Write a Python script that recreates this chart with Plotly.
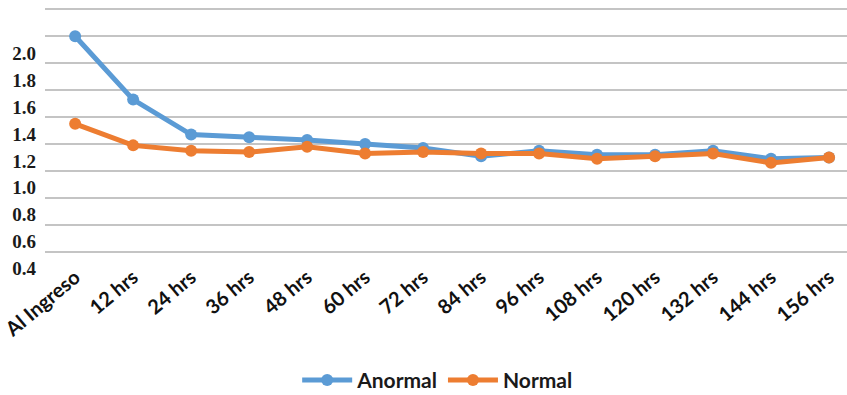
import plotly.graph_objects as go

# Time points of the measurements
categories = ["Al Ingreso", "12 hrs", "24 hrs", "36 hrs", "48 hrs", "60 hrs", "72 hrs",
              "84 hrs", "96 hrs", "108 hrs", "120 hrs", "132 hrs", "144 hrs", "156 hrs"]

# Series values
anormal = [2.00, 1.53, 1.27, 1.25, 1.23, 1.20, 1.17, 1.11, 1.15, 1.12, 1.12, 1.15, 1.09, 1.10]
normal = [1.35, 1.19, 1.15, 1.14, 1.18, 1.13, 1.14, 1.13, 1.13, 1.09, 1.11, 1.13, 1.06, 1.10]

# Left-axis tick labels
y_tick_values = [0.4, 0.6, 0.8, 1.0, 1.2, 1.4, 1.6, 1.8, 2.0]
y_tick_labels = ["0.4", "0.6", "0.8", "1.0", "1.2", "1.4", "1.6", "1.8", "2.0"]

BLUE = "#5B9BD5"
ORANGE = "#ED7D31"
GRID = "#C4C4C4"

# value range of the plotting area (grid lines every 0.2 from 0.4 to 2.2)
y_range = [0.22, 2.21]
label_shift = 0.125  # tick text sits a little below its grid line

fig = go.Figure()
fig.add_trace(go.Scatter(
    x=categories, y=anormal, name="Anormal", mode="lines+markers",
    line=dict(color=BLUE, width=5), marker=dict(color=BLUE, size=12),
))
fig.add_trace(go.Scatter(
    x=categories, y=normal, name="Normal", mode="lines+markers",
    line=dict(color=ORANGE, width=5), marker=dict(color=ORANGE, size=12),
))
# empty trace so the labelled left axis is drawn
fig.add_trace(go.Scatter(
    x=[categories[0]], y=[None], yaxis="y2", mode="lines",
    showlegend=False, hoverinfo="skip",
))

fig.update_layout(
    width=847, height=395,
    margin=dict(l=45, r=0, t=7.65, b=119.3, autoexpand=False),
    plot_bgcolor="white", paper_bgcolor="white",
    showlegend=True,
    legend=dict(
        orientation="h", x=0.489, xanchor="center",
        y=-0.389, yanchor="middle",
        font=dict(family="Lato", size=21, color="#1a1a1a", weight="bold"),
        itemwidth=50, tracegroupgap=0,
        bgcolor="rgba(0,0,0,0)",
    ),
    xaxis=dict(
        type="category", categoryorder="array", categoryarray=categories,
        range=[-0.52, 13.31], automargin=False,
        showgrid=False, showline=False, zeroline=False,
        ticks="", tickangle=-40, ticklabelstandoff=-15,
        tickfont=dict(family="Lato", size=20, color="#111111", weight="bold"),
    ),
    yaxis=dict(
        range=y_range, tick0=0.4, dtick=0.2, automargin=False,
        showgrid=True, gridcolor=GRID, gridwidth=1.5,
        showticklabels=False, ticks="", zeroline=False, showline=False,
    ),
    yaxis2=dict(
        overlaying="y", side="left", anchor="x", automargin=False,
        range=[y_range[0] + label_shift, y_range[1] + label_shift],
        tickmode="array", tickvals=y_tick_values, ticktext=y_tick_labels,
        showgrid=False, zeroline=False, showline=False, ticks="",
        ticklabelstandoff=8,
        tickfont=dict(family="Liberation Serif", size=19, color="#1a1a1a", weight="bold"),
    ),
)

fig.write_html("out.html")
